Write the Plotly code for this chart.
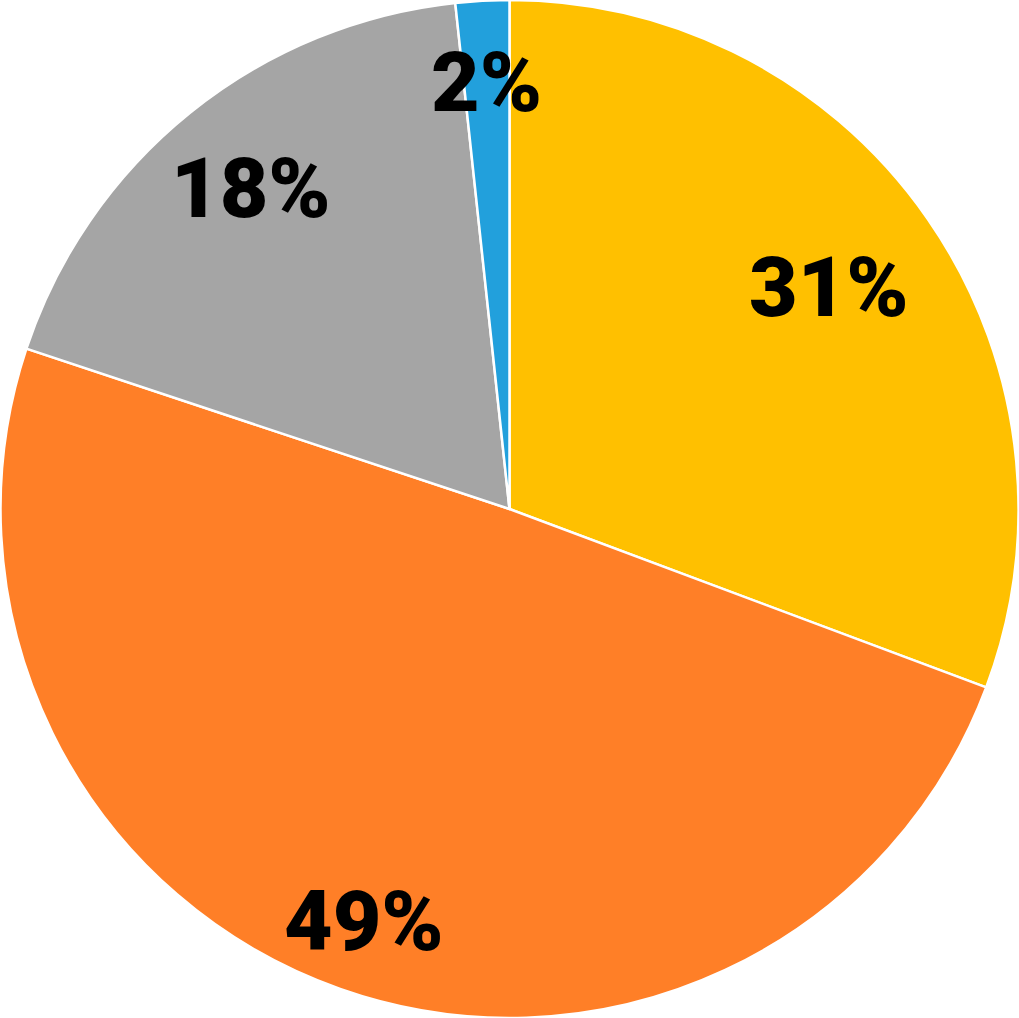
import math
import plotly.graph_objects as go

categories = ["A", "B", "C", "D"]
values = [30.7, 49.4, 18.2, 1.7]
label_texts = ["31%", "49%", "18%", "2%"]
colors = ["#FFC000", "#FF7F27", "#A5A5A5", "#22A0DC"]
label_radius = [0.765, 0.86, 0.81, 0.84]

W, H = 1019, 1018

fig = go.Figure(go.Pie(
    labels=categories,
    values=values,
    sort=False,
    direction="clockwise",
    rotation=0,
    marker=dict(colors=colors, line=dict(color="white", width=2.5)),
    textinfo="none",
    hoverinfo="label+percent",
    showlegend=False,
    domain=dict(x=[0, 1], y=[0, 1]),
))

# label positions derived from the data's cumulative angles
total = sum(values)
R = min(W, H) / 2
cx, cy = W / 2, H / 2
cum = 0
annotations = []
for v, t, rf in zip(values, label_texts, label_radius):
    mid = (cum + v / 2) / total * 2 * math.pi
    cum += v
    px = cx + rf * R * math.sin(mid)
    py = cy - rf * R * math.cos(mid)
    annotations.append(dict(
        x=px / W, y=1 - py / H, xref="paper", yref="paper",
        text=t, showarrow=False, xanchor="center", yanchor="middle",
        font=dict(family="Roboto", size=84, color="black", weight=900),
    ))

fig.update_layout(
    width=W, height=H,
    margin=dict(l=0, r=0, t=0, b=0),
    paper_bgcolor="white",
    plot_bgcolor="white",
    annotations=annotations,
)

fig.write_html(
    "out.html",
    config={"displayModeBar": False},
    post_script="document.body.style.margin='0';document.body.style.overflow='hidden';",
)
